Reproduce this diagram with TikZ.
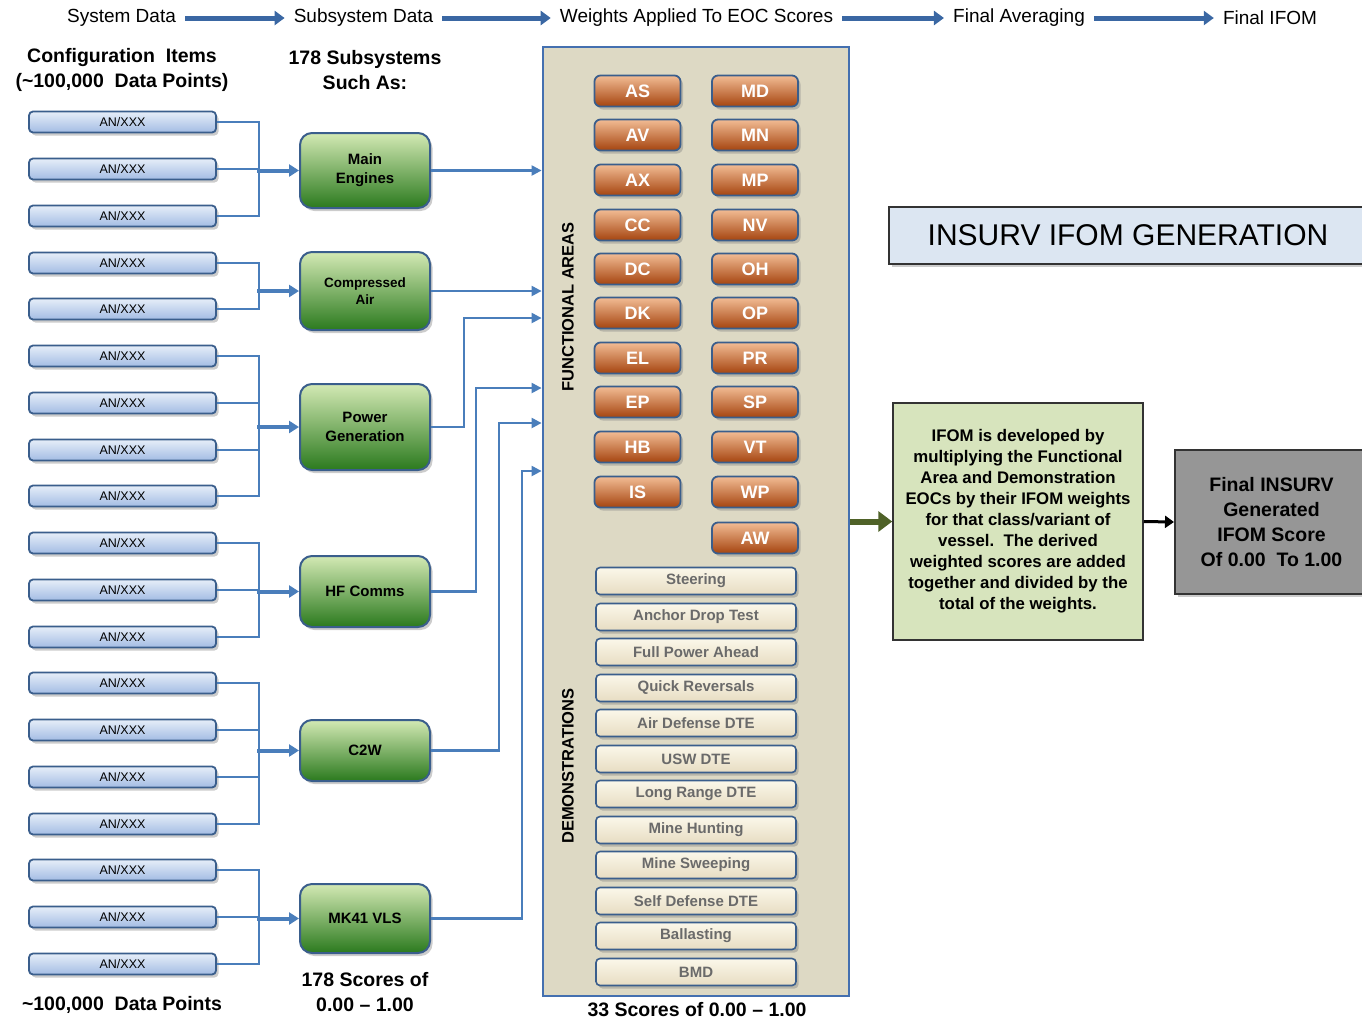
\documentclass[tikz,border=0pt]{standalone}
\usepackage{fontspec}
\setmainfont{Liberation Sans}
\usetikzlibrary{shadows,arrows.meta}
\newcommand\myfs[2]{\fontsize{#1}{#2}\selectfont}
\definecolor{anTop}{HTML}{E6EEF9}
\definecolor{anBot}{HTML}{A3BCE3}
\definecolor{bdBlue}{HTML}{3A5E8C}
\definecolor{grTop}{HTML}{D3E9B4}
\definecolor{grBot}{HTML}{2B7A1E}
\definecolor{orTop}{HTML}{F2BC94}
\definecolor{orBot}{HTML}{A5440F}
\definecolor{dmTop}{HTML}{FBF7EA}
\definecolor{dmBot}{HTML}{E7DDC2}
\definecolor{dmText}{HTML}{6A6A6A}
\definecolor{panelFill}{HTML}{DDD9C4}
\definecolor{panelBd}{HTML}{4470B0}
\definecolor{connBlue}{HTML}{4A7EBB}
\definecolor{hdrBlue}{HTML}{3A67A3}
\definecolor{titleFill}{HTML}{DCE6F2}
\definecolor{ifomFill}{HTML}{D7E4BD}
\definecolor{finalFill}{HTML}{969696}
\definecolor{olive}{HTML}{4F6228}
\begin{document}
\begin{tikzpicture}[x=1pt,y=-1pt,
  shad/.style={drop shadow={shadow xshift=2.5pt,shadow yshift=-3pt,opacity=.4}},
  anbox/.style={draw=bdBlue,line width=1.8pt,rounded corners=4pt,top color=anTop,bottom color=anBot,
    minimum width=187pt,minimum height=21pt,inner sep=0pt,font=\myfs{12.5}{14},shad},
  grbox/.style={draw=bdBlue,line width=2pt,rounded corners=12pt,top color=grTop,bottom color=grBot,
    minimum width=130pt,inner sep=2pt,align=center,font=\bfseries\myfs{15}{19},shad},
  orbox/.style={draw=bdBlue,line width=1.8pt,rounded corners=6pt,top color=orTop,bottom color=orBot,
    minimum width=86pt,minimum height=31pt,inner sep=0pt,text=white,font=\bfseries\myfs{18}{20},shad},
  dmbox/.style={draw=bdBlue,line width=1.6pt,rounded corners=4pt,top color=dmTop,bottom color=dmBot,
    minimum width=200pt,minimum height=27pt,inner sep=0pt,text=dmText,font=\bfseries\myfs{15}{16},shad},
  conn/.style={draw=connBlue,line width=2.2pt},
  carr/.style={conn,-{Triangle[length=10pt,width=10pt]}},
  barr/.style={draw=connBlue,line width=4pt,-{Triangle[length=10pt,width=12pt]}},
  hdr/.style={inner sep=0pt,font=\myfs{19}{22}},
  harr/.style={draw=hdrBlue,line width=5pt,shorten <=9pt,shorten >=9pt,-{Triangle[length=10pt,width=14pt]}},
  lbl/.style={inner sep=0pt,align=center,font=\bfseries\myfs{19.5}{25}},
]
\useasboundingbox (0,0) rectangle (1362,1021);

% header
\node[hdr] (h1) at (121.5,18) {System Data};
\node[hdr] (h2) at (363.5,18) {Subsystem Data};
\node[hdr] (h3) at (696.5,18) {Weights Applied To EOC Scores};
\node[hdr] (h4) at (1019,18) {Final Averaging};
\node[hdr] (h5) at (1270,18) {Final IFOM};
\draw[harr] (h1.east) -- (h2.west);
\draw[harr] (h2.east) -- (h3.west);
\draw[harr] (h3.east) -- (h4.west);
\draw[harr] (h4.east) -- (h5.west);

% column titles
\node[lbl] (cfg) at (122,70) {Configuration\ \ Items\\(\textasciitilde100,000\ \ Data Points)};
\node[lbl] (sub) at (365,70) {178 Subsystems\\Such As:};

% AN/XXX boxes
\foreach \i/\y in {1/122,2/169,3/216,4/263,5/309,6/356,7/403,8/450,9/496,10/543,11/590,12/637,13/683,14/730,15/777,16/824,17/870,18/917,19/964}
  \node[anbox] (an\i) at (122.5,\y) {AN/XXX};

% subsystem boxes
\node[grbox,minimum height=75pt] (gME) at (365,170.5) {Main\\Engines};
\node[grbox,minimum height=78pt,font=\bfseries\myfs{13.5}{17}] (gCA) at (365,291) {Compressed\\Air};
\node[grbox,minimum height=86pt] (gPG) at (365,427) {Power\\Generation};
\node[grbox,minimum height=71pt] (gHF) at (365,591.5) {HF Comms};
\node[grbox,minimum height=61pt] (gCW) at (365,750.5) {C2W};
\node[grbox,minimum height=69pt] (gMK) at (365,918.5) {MK41 VLS};

% brackets
\draw[conn] (an1.east) -- ++(42,0) |- (an3.east);
\draw[conn] (an2.east) -- ++(42,0);
\draw[barr] ([xshift=-42pt]gME.west) -- (gME.west);

\draw[conn] (an4.east) -- ++(42,0) |- (an5.east);
\draw[barr] ([xshift=-42pt]gCA.west) -- (gCA.west);

\draw[conn] (an6.east) -- ++(42,0) |- (an9.east);
\draw[conn] (an7.east) -- ++(42,0);
\draw[conn] (an8.east) -- ++(42,0);
\draw[barr] ([xshift=-42pt]gPG.west) -- (gPG.west);

\draw[conn] (an10.east) -- ++(42,0) |- (an12.east);
\draw[conn] (an11.east) -- ++(42,0);
\draw[barr] ([xshift=-42pt]gHF.west) -- (gHF.west);

\draw[conn] (an13.east) -- ++(42,0) |- (an16.east);
\draw[conn] (an14.east) -- ++(42,0);
\draw[conn] (an15.east) -- ++(42,0);
\draw[barr] ([xshift=-42pt]gCW.west) -- (gCW.west);

\draw[conn] (an17.east) -- ++(42,0) |- (an19.east);
\draw[conn] (an18.east) -- ++(42,0);
\draw[barr] ([xshift=-42pt]gMK.west) -- (gMK.west);

% main panel
\node[draw=panelBd,line width=2.8pt,fill=panelFill,minimum width=306pt,minimum height=949pt,inner sep=0pt] (panel) at (696,521.5) {};
\node[rotate=90,inner sep=0pt,font=\bfseries\myfs{16.5}{18}] (lfa) at (568,307) {FUNCTIONAL AREAS};
\node[rotate=90,inner sep=0pt,font=\bfseries\myfs{16.5}{18}] (ldm) at (568,766) {DEMONSTRATIONS};

% connectors to panel
\draw[carr] (gME.east) -- (gME.east -| panel.west);
\draw[carr] (gCA.east) -- (gCA.east -| panel.west);
\draw[carr] (gPG.east) -- ++(33,0) |- ([yshift=203.5pt]panel.west);
\draw[carr] (gHF.east) -- ++(45,0) |- ([yshift=133.5pt]panel.west);
\draw[carr] (gCW.east) -- ++(68,0) |- ([yshift=98.5pt]panel.west);
\draw[carr] (gMK.east) -- ++(91,0) |- ([yshift=50.5pt]panel.west);

% functional areas
\foreach \t/\y in {AS/91,AV/135,AX/180,CC/225,DC/269,DK/313,EL/358,EP/402,HB/447,IS/492}
  \node[orbox] (fa\t) at (637.5,\y) {\t};
\foreach \t/\y in {MD/91,MN/135,MP/180,NV/225,OH/269,OP/313,PR/358,SP/402,VT/447,WP/492,AW/538}
  \node[orbox] (fa\t) at (755,\y) {\t};

% demonstrations
\foreach \i/\t/\y in {1/Steering/581,2/Anchor Drop Test/617,3/Full Power Ahead/652,4/Quick Reversals/688,
  5/Air Defense DTE/723,6/USW DTE/759,7/Long Range DTE/794,8/Mine Hunting/830,9/Mine Sweeping/865,
  10/Self Defense DTE/901,11/Ballasting/936,12/BMD/972}
  \node[dmbox] (dm\i) at (696,\y) {\t};

% bottom labels
\node[lbl] (bl1) at (122,1005) {\textasciitilde100,000\ \ Data Points};
\node[lbl] (bl2) at (365,992) {178 Scores of\\0.00 -- 1.00};
\node[lbl] (bl3) at (697,1010) {33 Scores of 0.00 -- 1.00};

% right side
\node[draw=black!80,line width=1.5pt,fill=titleFill,minimum width=476pt,minimum height=57pt,inner sep=0pt,
  font=\myfs{30}{32},shad] (title) at (1127,235.5) {\hspace*{2pt}INSURV IFOM GENERATION};
\node[draw=black!80,line width=1.5pt,fill=ifomFill,minimum width=250pt,minimum height=237pt,
  align=center,inner sep=0pt,font=\bfseries\myfs{16.8}{21}] (ifom) at (1018,521.5)
  {IFOM is developed by\\multiplying the Functional\\Area and Demonstration\\EOCs by their IFOM weights\\for that class/variant of\\vessel.\ \ The derived\\weighted scores are added\\together and divided by the\\total of the weights.};
\node[draw=black!80,line width=2pt,fill=finalFill,minimum width=193pt,minimum height=144pt,inner sep=0pt,
  align=center,font=\bfseries\myfs{19.5}{25},shad] (final) at (1271.5,522)
  {Final INSURV\\Generated\\IFOM Score\\Of 0.00\ \ To 1.00};

\draw[draw=olive,line width=6pt,-{Triangle[length=14pt,width=20pt]}] (panel.east) -- (ifom.west);
\draw[draw=black,line width=3pt,-{Triangle[length=9pt,width=12pt]}] (ifom.east) -- (final.west);
\end{tikzpicture}
\end{document}
